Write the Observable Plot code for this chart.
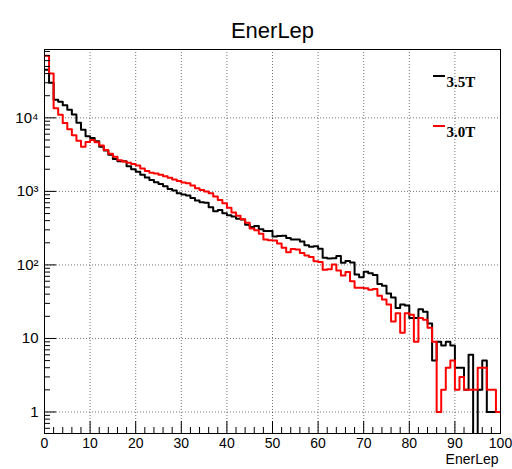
<!DOCTYPE html>
<html><head><meta charset="utf-8">
<script src="https://cdn.jsdelivr.net/npm/d3@7"></script>
<script src="https://cdn.jsdelivr.net/npm/@observablehq/plot@0.6"></script>
<style>body{margin:0;background:#fff;}#chart svg{display:block;}</style>
</head><body><div id="chart"></div>
<script>
// Histogram: 100 bins from 0 to 100 (EnerLep)
const binLowEdges = d3.range(0, 100, 1);
const xRangeMax = 100;

const seriesNames = ["3.5T", "3.0T"];
const seriesColors = ["#000000", "#ff0000"];

const counts35T = [
  45000, 30000, 17600, 16600, 14800, 12900, 11100, 8600, 6900, 5600,
  5300, 4800, 4030, 3600, 3160, 2750, 2570, 2570, 2200, 2000,
  1850, 1680, 1550, 1430, 1330, 1265, 1170, 1081, 1025, 942,
  904, 877, 816, 750, 711, 698, 608, 536, 560, 504,
  475, 457, 423, 416, 352, 327, 338, 305, 290, 290,
  243, 247, 250, 232, 222, 221, 208, 185, 177, 180,
  166, 125, 122, 123, 132, 107, 113, 108, 74, 68,
  81, 77, 73, 55, 52, 41, 36, 26, 29, 28,
  19, 19, 25, 23, 16, 5, 9, 8, 9, 8,
  4, 4, 2, 6, 0, 2, 5, 1, 1, 1
];

const counts30T = [
  70000, 40000, 13500, 11000, 8500, 7000, 5800, 4900, 4050, 4700,
  5000, 4650, 4200, 3650, 3250, 2950, 2650, 2550, 2450, 2350,
  2250, 2050, 1900, 1790, 1745, 1680, 1610, 1530, 1450, 1385,
  1318, 1290, 1200, 1100, 1047, 1000, 942, 849, 766, 689,
  600, 518, 468, 418, 375, 314, 296, 266, 222, 216,
  214, 195, 171, 149, 165, 162, 145, 134, 128, 112,
  110, 86, 87, 101, 84, 72, 80, 60, 49, 49,
  48, 46, 47, 38, 34, 29, 17, 22, 12, 22,
  21, 9, 19, 18, 14, 9, 1, 2, 4, 5,
  2, 3, 2, 2, 2, 4, 4, 2, 2, 1
];

const xMajorTicks = [0, 10, 20, 30, 40, 50, 60, 70, 80, 90, 100];
const xMinorTicks = d3.range(0, 101, 2).filter(v => v % 10 !== 0);
const yMajorTicks = [1, 10, 100, 1000, 10000];
const yMinorTicks = [0.6,0.7,0.8,0.9, 2,3,4,5,6,7,8,9, 20,30,40,50,60,70,80,90,
  200,300,400,500,600,700,800,900, 2000,3000,4000,5000,6000,7000,8000,9000,
  20000,30000,40000,50000,60000,70000,80000];
const yLabels = {1: "1", 10: "10", 100: "10\u00B2", 1000: "10\u00B3", 10000: "10\u2074"};
const yDomain = [0.51, 85000];

// layout
const W = 512, H = 469;
const mL = 44, mR = 12, mT = 49, mB = 36;
const innerW = W - mL - mR, innerH = H - mT - mB;
const floorVal = 0.2; // empty bins drawn down to the axis (clipped)

function steps(counts) {
  const pts = binLowEdges.map((x, i) => ({x, y: Math.max(counts[i], floorVal)}));
  pts.push({x: xRangeMax, y: Math.max(counts[counts.length - 1], floorVal)});
  return pts;
}

const gridStyle = {stroke: "#000", strokeOpacity: 0.55, strokeDasharray: "1,2", strokeWidth: 1};
const legendFont = {fontSize: 15, fontWeight: "bold", fontFamily: "'Liberation Serif', 'Times New Roman', serif", textAnchor: "start", frameAnchor: "top-right", dx: -54};

const plot = Plot.plot({
  width: W, height: H,
  marginLeft: mL, marginRight: mR, marginTop: mT, marginBottom: mB,
  style: {fontFamily: "'Liberation Sans', Arial, Helvetica, sans-serif", background: "#fff", color: "#000", overflow: "visible"},
  x: {domain: [0, xRangeMax]},
  y: {type: "log", domain: yDomain},
  marks: [
    Plot.ruleX(xMajorTicks.slice(1, -1), {x: d => d, ...gridStyle}),
    Plot.ruleY(yMajorTicks, {y: d => d, ...gridStyle}),
    Plot.line(steps(counts35T), {x: "x", y: "y", curve: "step-after", stroke: seriesColors[0], strokeWidth: 2, clip: true}),
    Plot.line(steps(counts30T), {x: "x", y: "y", curve: "step-after", stroke: seriesColors[1], strokeWidth: 2, clip: true}),
    Plot.ruleX(xMajorTicks, {x: d => d, insetTop: innerH - 12, stroke: "#000"}),
    Plot.ruleX(xMinorTicks, {x: d => d, insetTop: innerH - 6, stroke: "#000"}),
    Plot.ruleY(yMajorTicks, {y: d => d, insetRight: innerW - 12, stroke: "#000"}),
    Plot.ruleY(yMinorTicks, {y: d => d, insetRight: innerW - 6, stroke: "#000"}),
    Plot.frame({stroke: "#000", strokeWidth: 1}),
    Plot.axisX(xMajorTicks, {tickSize: 0, tickPadding: 5, fontSize: 14, label: null}),
    Plot.axisY(yMajorTicks, {tickSize: 0, tickPadding: 6, fontSize: 15, label: null, tickFormat: d => yLabels[d]}),
    Plot.text(["EnerLep"], {text: d => d, frameAnchor: "top", dy: -27, fontSize: 22}),
    Plot.text(["EnerLep"], {text: d => d, frameAnchor: "bottom-right", dy: 30, dx: -2, textAnchor: "end", fontSize: 14}),
    Plot.text([seriesNames[0]], {text: d => d, ...legendFont, dy: 27}),
    Plot.text([seriesNames[1]], {text: d => d, ...legendFont, dy: 77})
  ]
});
document.getElementById("chart").appendChild(plot);

// legend line samples
const svg = d3.select(plot);
const legendY = [mT + 27, mT + 77];
seriesColors.forEach((c, i) => {
  svg.append("line")
    .attr("x1", W - mR - 67).attr("x2", W - mR - 55)
    .attr("y1", legendY[i]).attr("y2", legendY[i])
    .attr("stroke", c).attr("stroke-width", 2);
});
</script>
</body></html>
